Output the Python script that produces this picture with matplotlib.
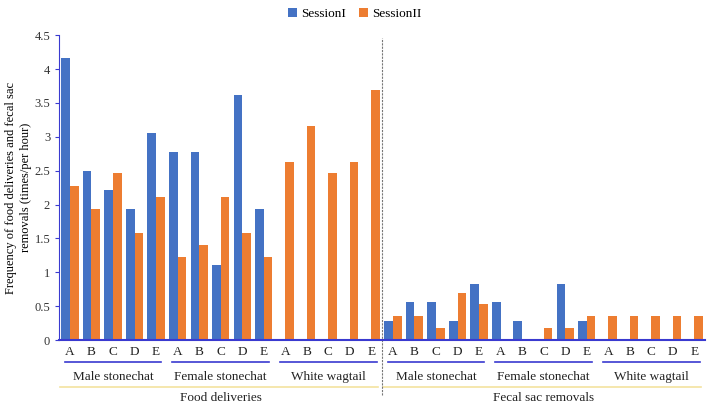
import numpy as np
import matplotlib
matplotlib.use("Agg")
import matplotlib.pyplot as plt

plt.rcParams['font.family'] = ['Liberation Serif', 'DejaVu Serif']

# Data
letters = ["A", "B", "C", "D", "E"]
species = ["Male stonechat", "Female stonechat", "White wagtail"]
behaviours = ["Food deliveries", "Fecal sac removals"]

session1 = [4.17, 2.50, 2.22, 1.94, 3.06,
            2.78, 2.78, 1.11, 3.61, 1.94,
            0, 0, 0, 0, 0,
            0.28, 0.56, 0.56, 0.28, 0.83,
            0.56, 0.28, 0, 0.83, 0.28,
            0, 0, 0, 0, 0]
session2 = [2.28, 1.93, 2.46, 1.58, 2.11,
            1.23, 1.41, 2.11, 1.58, 1.23,
            2.63, 3.16, 2.46, 2.63, 3.69,
            0.35, 0.35, 0.18, 0.70, 0.53,
            0, 0, 0.18, 0.18, 0.35,
            0.35, 0.35, 0.35, 0.35, 0.35]

BLUE = "#4472C4"
ORANGE = "#ED7D31"
AXIS = "#3a3ad0"

n = len(session1)
x = np.arange(n)
w = 0.4

fig = plt.figure(figsize=(7.09, 4.04), dpi=100)
ax = fig.add_axes([0.0835, 0.158, 0.911, 0.755])

ax.bar(x - w / 2, session1, w, color=BLUE, label="SessionI")
ax.bar(x + w / 2, session2, w, color=ORANGE, label="SessionII")

ax.set_xlim(-0.5, n - 0.5)
ax.set_ylim(0, 4.5)
ax.set_yticks(np.arange(0, 4.51, 0.5))
ax.set_yticklabels(["0", "0.5", "1", "1.5", "2", "2.5", "3", "3.5", "4", "4.5"])
ax.tick_params(axis='y', labelsize=9, color=AXIS, length=3, labelcolor="#333333")
ax.set_xticks([])
for s in ["top", "right"]:
    ax.spines[s].set_visible(False)
ax.spines["left"].set_color(AXIS)
ax.spines["bottom"].set_color(AXIS)
ax.spines["bottom"].set_linewidth(1.5)

# y label placed by hand so both lines sit left of the tick labels
fig.text(0.026, 0.535, "Frequency of food deliveries and fecal sac\nremovals (times/per hour)",
         rotation=90, ha="center", va="center", fontsize=9, linespacing=1.3,
         multialignment="center")

# hierarchical x labels
tr = ax.get_xaxis_transform()
for i in range(n):
    ax.text(i, -0.04, letters[i % 5], transform=tr, ha="center", va="center",
            fontsize=9.5, color="#222222")
for g in range(6):
    start = g * 5
    ax.plot([start - 0.25, start + 4.25], [-0.072, -0.072], transform=tr,
            color=AXIS, lw=1.2, clip_on=False)
    ax.text(start + 2, -0.122, species[g % 3], transform=tr, ha="center",
            va="center", fontsize=9.5, color="#222222")
for b in range(2):
    start = b * 15
    ax.plot([start - 0.45, start + 14.3], [-0.154, -0.154], transform=tr,
            color="#f3e3a0", lw=1.2, clip_on=False)
    ax.text(start + 7, -0.19, behaviours[b], transform=tr, ha="center",
            va="center", fontsize=9.5, color="#222222")

# separator between the two behaviours
ax.plot([14.5, 14.5], [-0.18, 0.99], transform=tr, color="#777777",
        lw=0.8, ls=(0, (2, 1)), clip_on=False)

fig.legend(loc="upper center", bbox_to_anchor=(0.5, 1.01), ncol=2, frameon=False,
           fontsize=9.5, handlelength=0.7, handleheight=0.7, handletextpad=0.3,
           columnspacing=1.0)

fig.savefig("out.png", dpi=100)
